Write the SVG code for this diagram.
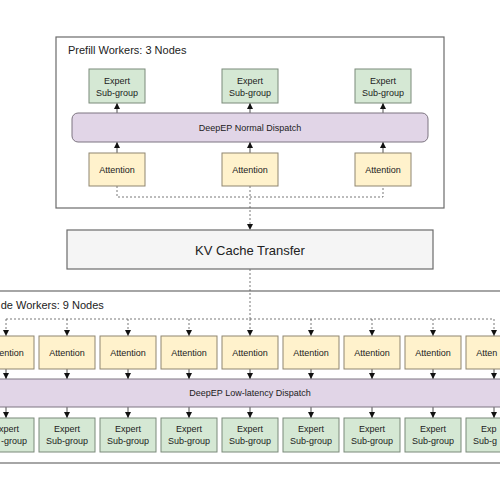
<svg xmlns="http://www.w3.org/2000/svg" width="500" height="499" viewBox="0 0 500 499">
<defs>
<marker id="ah" viewBox="0 0 6 6" refX="6" refY="3" markerWidth="6" markerHeight="6" markerUnits="userSpaceOnUse" orient="auto">
<path d="M0,0 L6,3 L0,6 Z" fill="#111"/>
</marker>
<style>
text{font-family:"Liberation Sans",Arial,sans-serif;fill:#222;text-anchor:middle}
.grp{fill:#fff;stroke:#6b6b6b;stroke-width:1.2}
.title{font-size:11px;text-anchor:start}
.att{fill:#fff2cc;stroke:#8f8670;stroke-width:1}
.exp{fill:#d5e8d4;stroke:#7b8a7a;stroke-width:1}
.disp{fill:#e1d5e7;stroke:#7d7581;stroke-width:1}
.kv{fill:#f5f5f5;stroke:#6b6b6b;stroke-width:1.2}
.lbl{font-size:9px}
.st{text-anchor:start}
.en{text-anchor:end}
.solid{stroke:#222;stroke-width:0.8;fill:none}
.dot{stroke:#555;stroke-width:0.8;fill:none;stroke-dasharray:2 2}
</style>
</defs>
<rect width="500" height="499" fill="#fff"/>

<g id="prefill-group">
<rect class="grp" x="56" y="37" width="388" height="171"/>
<text class="title" x="68" y="54">Prefill Workers: 3 Nodes</text>
</g>
<g id="decode-group">
<rect class="grp" x="-37" y="291" width="574" height="172"/>
<text class="title" x="0.7" y="309">de Workers: 9 Nodes</text>
</g>

<g id="connectors">
<path class="solid" d="M117,153 V142" marker-end="url(#ah)"/>
<path class="solid" d="M250,153 V142" marker-end="url(#ah)"/>
<path class="solid" d="M383,153 V142" marker-end="url(#ah)"/>
<path class="solid" d="M117,113 V103" marker-end="url(#ah)"/>
<path class="solid" d="M250,113 V103" marker-end="url(#ah)"/>
<path class="solid" d="M383,113 V103" marker-end="url(#ah)"/>
<path class="dot" d="M117,186 V197 H383 V186"/>
<path class="dot" d="M250,186 V230" marker-end="url(#ah)"/>
<path class="dot" d="M250,269 V319"/>
<path class="dot" d="M6,319 H494"/>
<path class="dot" d="M6,319 V336" marker-end="url(#ah)"/>
<path class="dot" d="M67,319 V336" marker-end="url(#ah)"/>
<path class="dot" d="M128,319 V336" marker-end="url(#ah)"/>
<path class="dot" d="M189,319 V336" marker-end="url(#ah)"/>
<path class="dot" d="M250,319 V336" marker-end="url(#ah)"/>
<path class="dot" d="M311,319 V336" marker-end="url(#ah)"/>
<path class="dot" d="M372,319 V336" marker-end="url(#ah)"/>
<path class="dot" d="M433,319 V336" marker-end="url(#ah)"/>
<path class="dot" d="M494,319 V336" marker-end="url(#ah)"/>
<path class="solid" d="M6,369 V379" marker-end="url(#ah)"/>
<path class="solid" d="M67,369 V379" marker-end="url(#ah)"/>
<path class="solid" d="M128,369 V379" marker-end="url(#ah)"/>
<path class="solid" d="M189,369 V379" marker-end="url(#ah)"/>
<path class="solid" d="M250,369 V379" marker-end="url(#ah)"/>
<path class="solid" d="M311,369 V379" marker-end="url(#ah)"/>
<path class="solid" d="M372,369 V379" marker-end="url(#ah)"/>
<path class="solid" d="M433,369 V379" marker-end="url(#ah)"/>
<path class="solid" d="M494,369 V379" marker-end="url(#ah)"/>
<path class="solid" d="M6,407 V418" marker-end="url(#ah)"/>
<path class="solid" d="M67,407 V418" marker-end="url(#ah)"/>
<path class="solid" d="M128,407 V418" marker-end="url(#ah)"/>
<path class="solid" d="M189,407 V418" marker-end="url(#ah)"/>
<path class="solid" d="M250,407 V418" marker-end="url(#ah)"/>
<path class="solid" d="M311,407 V418" marker-end="url(#ah)"/>
<path class="solid" d="M372,407 V418" marker-end="url(#ah)"/>
<path class="solid" d="M433,407 V418" marker-end="url(#ah)"/>
<path class="solid" d="M494,407 V418" marker-end="url(#ah)"/>
</g>

<g id="p-exp-1"><rect class="exp" x="89" y="69" width="56" height="34"/><text class="lbl" x="117" y="83.5">Expert</text><text class="lbl" x="117" y="95.5">Sub-group</text></g>
<g id="p-exp-2"><rect class="exp" x="222" y="69" width="56" height="34"/><text class="lbl" x="250" y="83.5">Expert</text><text class="lbl" x="250" y="95.5">Sub-group</text></g>
<g id="p-exp-3"><rect class="exp" x="355" y="69" width="56" height="34"/><text class="lbl" x="383" y="83.5">Expert</text><text class="lbl" x="383" y="95.5">Sub-group</text></g>
<g id="p-dispatch"><rect class="disp" x="72" y="113" width="356" height="29" rx="6"/><text class="lbl" x="250" y="130.5">DeepEP Normal Dispatch</text></g>
<g id="p-att-1"><rect class="att" x="89" y="153" width="56" height="33"/><text class="lbl" x="117" y="172.5">Attention</text></g>
<g id="p-att-2"><rect class="att" x="222" y="153" width="56" height="33"/><text class="lbl" x="250" y="172.5">Attention</text></g>
<g id="p-att-3"><rect class="att" x="355" y="153" width="56" height="33"/><text class="lbl" x="383" y="172.5">Attention</text></g>

<g id="kv-transfer"><rect class="kv" x="67" y="230" width="366" height="39"/><text x="250" y="254.5" style="font-size:13px">KV Cache Transfer</text></g>

<g id="d-att-1"><rect class="att" x="-22" y="336" width="56" height="33"/><text class="lbl en" x="23.8" y="355.5">ention</text></g>
<g id="d-att-2"><rect class="att" x="39" y="336" width="56" height="33"/><text class="lbl" x="67" y="355.5">Attention</text></g>
<g id="d-att-3"><rect class="att" x="100" y="336" width="56" height="33"/><text class="lbl" x="128" y="355.5">Attention</text></g>
<g id="d-att-4"><rect class="att" x="161" y="336" width="56" height="33"/><text class="lbl" x="189" y="355.5">Attention</text></g>
<g id="d-att-5"><rect class="att" x="222" y="336" width="56" height="33"/><text class="lbl" x="250" y="355.5">Attention</text></g>
<g id="d-att-6"><rect class="att" x="283" y="336" width="56" height="33"/><text class="lbl" x="311" y="355.5">Attention</text></g>
<g id="d-att-7"><rect class="att" x="344" y="336" width="56" height="33"/><text class="lbl" x="372" y="355.5">Attention</text></g>
<g id="d-att-8"><rect class="att" x="405" y="336" width="56" height="33"/><text class="lbl" x="433" y="355.5">Attention</text></g>
<g id="d-att-9"><rect class="att" x="466" y="336" width="56" height="33"/><text class="lbl st" x="476.2" y="355.5">Atten</text></g>

<g id="d-dispatch"><rect class="disp" x="-40" y="379" width="580" height="28" rx="6"/><text class="lbl" x="250" y="396">DeepEP Low-latency Dispatch</text></g>

<g id="d-exp-1"><rect class="exp" x="-22" y="418" width="56" height="34"/><text class="lbl en" x="19" y="432">xpert</text><text class="lbl en" x="27" y="444">-group</text></g>
<g id="d-exp-2"><rect class="exp" x="39" y="418" width="56" height="34"/><text class="lbl" x="67" y="432">Expert</text><text class="lbl" x="67" y="444">Sub-group</text></g>
<g id="d-exp-3"><rect class="exp" x="100" y="418" width="56" height="34"/><text class="lbl" x="128" y="432">Expert</text><text class="lbl" x="128" y="444">Sub-group</text></g>
<g id="d-exp-4"><rect class="exp" x="161" y="418" width="56" height="34"/><text class="lbl" x="189" y="432">Expert</text><text class="lbl" x="189" y="444">Sub-group</text></g>
<g id="d-exp-5"><rect class="exp" x="222" y="418" width="56" height="34"/><text class="lbl" x="250" y="432">Expert</text><text class="lbl" x="250" y="444">Sub-group</text></g>
<g id="d-exp-6"><rect class="exp" x="283" y="418" width="56" height="34"/><text class="lbl" x="311" y="432">Expert</text><text class="lbl" x="311" y="444">Sub-group</text></g>
<g id="d-exp-7"><rect class="exp" x="344" y="418" width="56" height="34"/><text class="lbl" x="372" y="432">Expert</text><text class="lbl" x="372" y="444">Sub-group</text></g>
<g id="d-exp-8"><rect class="exp" x="405" y="418" width="56" height="34"/><text class="lbl" x="433" y="432">Expert</text><text class="lbl" x="433" y="444">Sub-group</text></g>
<g id="d-exp-9"><rect class="exp" x="466" y="418" width="56" height="34"/><text class="lbl st" x="481" y="432">Exp</text><text class="lbl st" x="473" y="444">Sub-g</text></g>
</svg>
